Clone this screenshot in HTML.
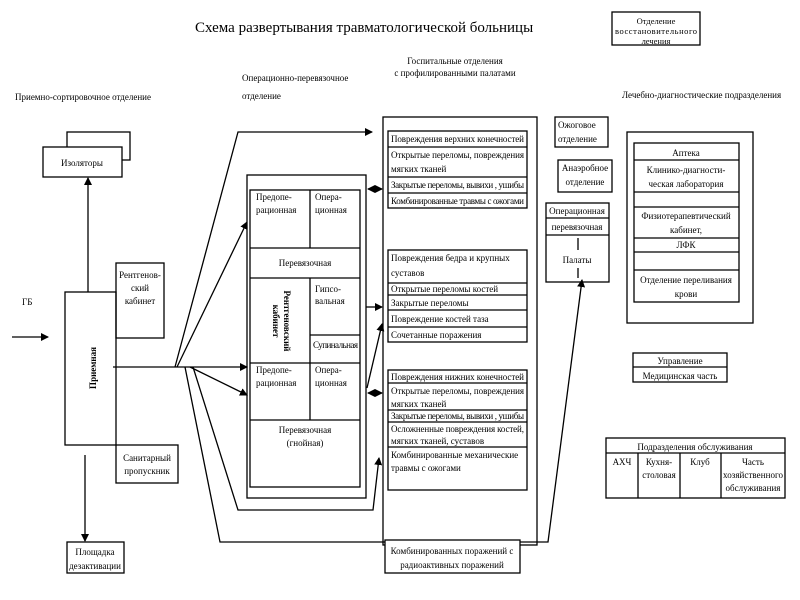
<!DOCTYPE html>
<html><head><meta charset="utf-8"><style>
html,body{margin:0;padding:0;background:#fff}
svg{display:block}
text{font-family:"Liberation Serif",serif;font-size:9.5px;fill:#000}
.t{font-size:9px}
</style></head><body>
<svg width="800" height="600" viewBox="0 0 800 600" xmlns="http://www.w3.org/2000/svg">
<defs><marker id="a" markerWidth="8" markerHeight="8" refX="7" refY="4" orient="auto" markerUnits="userSpaceOnUse"><path d="M0,0 L8,4 L0,8 z" fill="#000"/></marker>
<marker id="s" markerWidth="8" markerHeight="8" refX="1" refY="4" orient="auto" markerUnits="userSpaceOnUse"><path d="M8,0 L0,4 L8,8 z" fill="#000"/></marker></defs>
<g fill="none" stroke="#000" stroke-width="1.3">
<rect x="67" y="132" width="63" height="28"/>
<rect x="43" y="147" width="79" height="30" fill="#fff"/>
<line x1="88" y1="292" x2="88" y2="178" marker-end="url(#a)"/>
<rect x="65" y="292" width="51" height="153"/>
<rect x="116" y="263" width="48" height="75"/>
<rect x="116" y="445" width="62" height="38"/>
<line x1="85" y1="455" x2="85" y2="541" marker-end="url(#a)"/>
<rect x="67" y="542" width="57" height="31"/>
<line x1="12" y1="337" x2="48" y2="337" marker-end="url(#a)"/>
<line x1="113" y1="367" x2="247" y2="367" marker-end="url(#a)"/>
<polyline points="175,367 238,132 372,132" marker-end="url(#a)"/>
<line x1="177" y1="367" x2="247" y2="222" marker-end="url(#a)"/>
<line x1="190" y1="367" x2="247" y2="395" marker-end="url(#a)"/>
<polyline points="193,367 238,510 373,510 379,458" marker-end="url(#a)"/>
<polyline points="185,367 220,542 548,542 582,280" marker-end="url(#a)"/>
<rect x="247" y="175" width="119" height="323"/>
<rect x="250" y="190" width="110" height="297"/>
<line x1="250" y1="248" x2="360" y2="248"/><line x1="250" y1="278" x2="360" y2="278"/>
<line x1="250" y1="363" x2="360" y2="363"/><line x1="250" y1="420" x2="360" y2="420"/>
<line x1="310" y1="190" x2="310" y2="248"/><line x1="310" y1="278" x2="310" y2="420"/>
<line x1="310" y1="335" x2="360" y2="335"/>
<line x1="368" y1="189" x2="382" y2="189" marker-start="url(#s)" marker-end="url(#a)"/>
<line x1="368" y1="393" x2="382" y2="393" marker-start="url(#s)" marker-end="url(#a)"/>
<line x1="366" y1="307" x2="382" y2="307" marker-end="url(#a)"/>
<line x1="367" y1="388" x2="382" y2="324" marker-end="url(#a)"/>
<rect x="383" y="117" width="154" height="428"/>
<rect x="388" y="131" width="139" height="77"/>
<line x1="388" y1="147" x2="527" y2="147"/><line x1="388" y1="177" x2="527" y2="177"/><line x1="388" y1="193" x2="527" y2="193"/>
<rect x="388" y="250" width="139" height="92"/>
<line x1="388" y1="283" x2="527" y2="283"/><line x1="388" y1="295" x2="527" y2="295"/><line x1="388" y1="310" x2="527" y2="310"/><line x1="388" y1="327" x2="527" y2="327"/>
<rect x="388" y="370" width="139" height="120"/>
<line x1="388" y1="383" x2="527" y2="383"/><line x1="388" y1="410" x2="527" y2="410"/><line x1="388" y1="422" x2="527" y2="422"/><line x1="388" y1="447" x2="527" y2="447"/>
<rect x="385" y="540" width="135" height="33" fill="#fff"/>
<rect x="612" y="12" width="88" height="33"/>
<rect x="555" y="117" width="53" height="30"/>
<rect x="558" y="160" width="54" height="32"/>
<rect x="546" y="203" width="63" height="79"/>
<line x1="546" y1="218" x2="609" y2="218"/><line x1="546" y1="235" x2="609" y2="235"/>
<line x1="578" y1="238" x2="578" y2="250"/><line x1="578" y1="268" x2="578" y2="278"/>
<rect x="627" y="132" width="126" height="191"/>
<rect x="634" y="143" width="105" height="159"/>
<line x1="634" y1="160" x2="739" y2="160"/><line x1="634" y1="192" x2="739" y2="192"/><line x1="634" y1="207" x2="739" y2="207"/><line x1="634" y1="238" x2="739" y2="238"/><line x1="634" y1="252" x2="739" y2="252"/><line x1="634" y1="270" x2="739" y2="270"/>
<rect x="633" y="353" width="94" height="29"/><line x1="633" y1="367" x2="727" y2="367"/>
<rect x="606" y="438" width="179" height="60"/><line x1="606" y1="453" x2="785" y2="453"/>
<line x1="638" y1="453" x2="638" y2="498"/><line x1="680" y1="453" x2="680" y2="498"/><line x1="721" y1="453" x2="721" y2="498"/>
</g>
<text x="195" y="32" style="font-size:15px">Схема развертывания травматологической больницы</text>
<text x="15" y="100" class="t">Приемно-сортировочное отделение</text>
<text x="242" y="81" class="t">Операционно-перевязочное</text>
<text x="242" y="99" class="t">отделение</text>
<text x="455" y="64" class="t" text-anchor="middle">Госпитальные отделения</text>
<text x="455" y="76" class="t" text-anchor="middle">с профилированными палатами</text>
<text x="622" y="98" class="t">Лечебно-диагностические подразделения</text>
<text x="656" y="24" style="font-size:8.5px" text-anchor="middle">Отделение</text>
<text x="656" y="34" style="font-size:8.5px" text-anchor="middle" textLength="82">восстановительного</text>
<text x="656" y="44" style="font-size:8.5px" text-anchor="middle">лечения</text>
<text x="82" y="166" class="t" text-anchor="middle">Изоляторы</text>
<text x="22" y="305" class="t">ГБ</text>
<text x="140" y="278" class="t" text-anchor="middle">Рентгенов-</text>
<text x="140" y="291" class="t" text-anchor="middle">ский</text>
<text x="140" y="304" class="t" text-anchor="middle">кабинет</text>
<text transform="translate(96,368) rotate(-90)" class="t" text-anchor="middle" style="font-weight:bold">Приемная</text>
<text x="147" y="461" class="t" text-anchor="middle">Санитарный</text>
<text x="147" y="474" class="t" text-anchor="middle">пропускник</text>
<text x="95" y="555" class="t" text-anchor="middle">Площадка</text>
<text x="95" y="569" class="t" text-anchor="middle">дезактивации</text>
<text x="256" y="200" class="t">Предопе-</text><text x="256" y="213" class="t">рационная</text>
<text x="315" y="200" class="t">Опера-</text><text x="315" y="213" class="t">ционная</text>
<text x="305" y="266" class="t" text-anchor="middle">Перевязочная</text>
<text transform="translate(284,321) rotate(90)" class="t" text-anchor="middle" style="font-weight:bold">Рентгеновский</text>
<text transform="translate(273,321) rotate(90)" class="t" text-anchor="middle" style="font-weight:bold">кабинет</text>
<text x="315" y="292" class="t">Гипсо-</text><text x="315" y="304" class="t">вальная</text>
<text x="313" y="348" class="t" textLength="45">Супинальная</text>
<text x="256" y="373" class="t">Предопе-</text><text x="256" y="386" class="t">рационная</text>
<text x="315" y="373" class="t">Опера-</text><text x="315" y="386" class="t">ционная</text>
<text x="305" y="433" class="t" text-anchor="middle">Перевязочная</text>
<text x="305" y="446" class="t" text-anchor="middle">(гнойная)</text>
<text x="391" y="142" class="t" textLength="133">Повреждения верхних конечностей</text>
<text x="391" y="158" class="t" textLength="133">Открытые переломы, повреждения</text>
<text x="391" y="172" class="t">мягких тканей</text>
<text x="391" y="188" class="t" textLength="133">Закрытые переломы, вывихи , ушибы</text>
<text x="391" y="204" class="t" textLength="133">Комбинированные травмы с ожогами</text>
<text x="391" y="261" class="t">Повреждения бедра и крупных</text>
<text x="391" y="276" class="t">суставов</text>
<text x="391" y="292" class="t">Открытые переломы костей</text>
<text x="391" y="306" class="t">Закрытые переломы</text>
<text x="391" y="322" class="t">Повреждение костей таза</text>
<text x="391" y="338" class="t">Сочетанные поражения</text>
<text x="391" y="380" class="t" textLength="133">Повреждения нижних конечностей</text>
<text x="391" y="394" class="t" textLength="133">Открытые переломы, повреждения</text>
<text x="391" y="407" class="t">мягких тканей</text>
<text x="391" y="419" class="t" textLength="133">Закрытые переломы, вывихи , ушибы</text>
<text x="391" y="432" class="t" textLength="133">Осложненные повреждения костей,</text>
<text x="391" y="444" class="t">мягких тканей, суставов</text>
<text x="391" y="458" class="t">Комбинированные механические</text>
<text x="391" y="471" class="t">травмы с ожогами</text>
<text x="452" y="554" class="t" text-anchor="middle">Комбинированных поражений с</text>
<text x="452" y="568" class="t" text-anchor="middle">радиоактивных поражений</text>
<text x="558" y="128" class="t">Ожоговое</text><text x="558" y="142" class="t">отделение</text>
<text x="585" y="171" class="t" text-anchor="middle">Анаэробное</text><text x="585" y="185" class="t" text-anchor="middle">отделение</text>
<text x="577" y="214" class="t" text-anchor="middle">Операционная</text>
<text x="577" y="230" class="t" text-anchor="middle">перевязочная</text>
<text x="577" y="263" class="t" text-anchor="middle">Палаты</text>
<text x="686" y="156" class="t" text-anchor="middle">Аптека</text>
<text x="686" y="173" class="t" text-anchor="middle">Клинико-диагности-</text>
<text x="686" y="187" class="t" text-anchor="middle">ческая лаборатория</text>
<text x="686" y="219" class="t" text-anchor="middle">Физиотерапевтический</text>
<text x="686" y="233" class="t" text-anchor="middle">кабинет,</text>
<text x="686" y="248" class="t" text-anchor="middle">ЛФК</text>
<text x="686" y="283" class="t" text-anchor="middle">Отделение переливания</text>
<text x="686" y="297" class="t" text-anchor="middle">крови</text>
<text x="680" y="364" class="t" text-anchor="middle">Управление</text>
<text x="680" y="379" class="t" text-anchor="middle">Медицинская часть</text>
<text x="695" y="450" class="t" text-anchor="middle">Подразделения обслуживания</text>
<text x="622" y="465" class="t" text-anchor="middle">АХЧ</text>
<text x="659" y="465" class="t" text-anchor="middle">Кухня-</text><text x="659" y="478" class="t" text-anchor="middle">столовая</text>
<text x="700" y="465" class="t" text-anchor="middle">Клуб</text>
<text x="753" y="465" class="t" text-anchor="middle">Часть</text><text x="753" y="478" class="t" text-anchor="middle" textLength="60">хозяйственного</text><text x="753" y="491" class="t" text-anchor="middle">обслуживания</text>
</svg>
</body></html>
